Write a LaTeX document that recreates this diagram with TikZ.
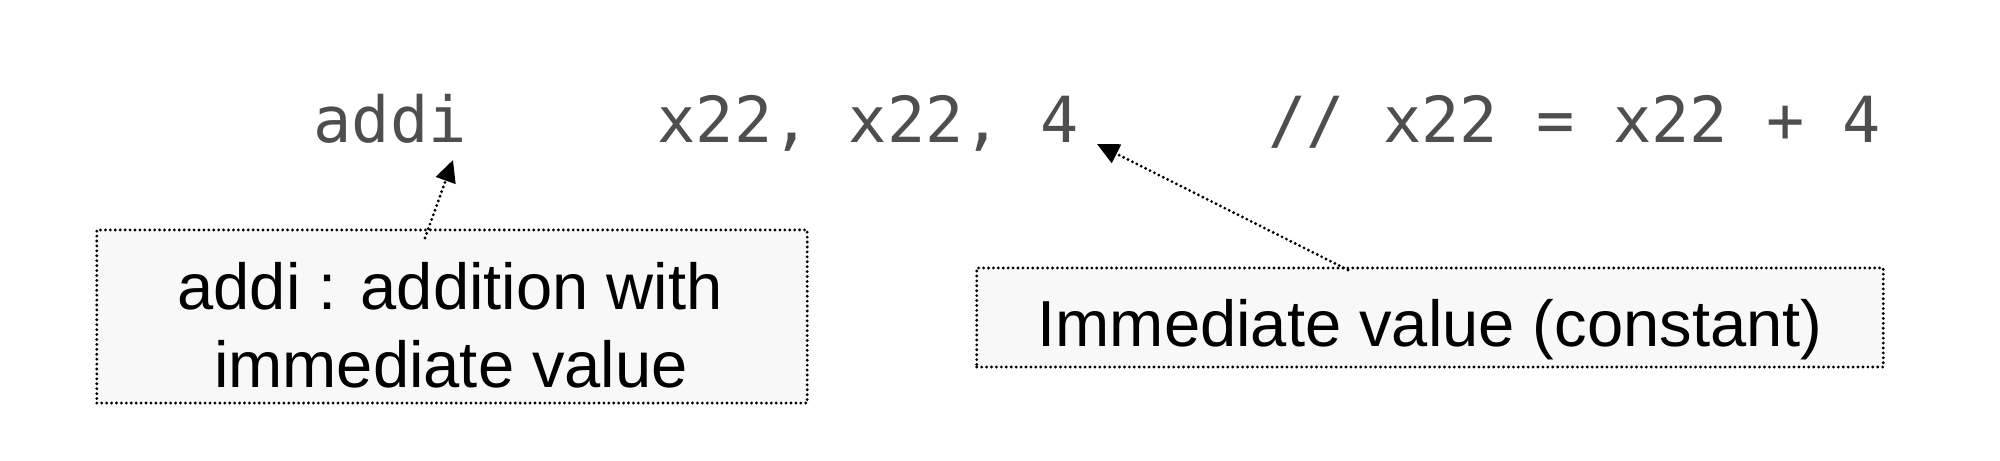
\documentclass[tikz,border=0pt]{standalone}
\usepackage{fontspec}
\setmainfont{Liberation Sans}
\setsansfont{Liberation Sans}
\setmonofont{DejaVu Sans Mono}
\usetikzlibrary{arrows.meta}
\definecolor{codegray}{RGB}{78,78,78}
\definecolor{boxfill}{RGB}{248,248,248}
\tikzset{
  codetext/.style={anchor=base west, inner sep=0pt, text=codegray,
    font=\ttfamily\fontsize{18.07pt}{20pt}\selectfont},
  dotbox/.style={draw=black, fill=boxfill, line width=0.9pt,
    dash pattern=on 0pt off 1.4pt, line cap=round, inner sep=0pt},
  boxtext/.style={anchor=base, inner sep=0pt, text=black,
    font=\sffamily\fontsize{18.5pt}{22pt}\selectfont},
  dotarrow/.style={draw=black, line width=0.9pt,
    dash pattern=on 0pt off 1.4pt, line cap=round,
    -{Triangle[length=6.2pt,width=5.8pt,line cap=butt,line join=miter]}},
}
\begin{document}
\begin{tikzpicture}[x=0.01cm, y=-0.01cm]
  \useasboundingbox (0,0) rectangle (2000,461);
  % code line
  \node[codetext] (op) at (313,143) {addi};
  \node[codetext] (args) at (657,143) {x22, x22, 4};
  \node[codetext] (cmt) at (1268,143) {// x22 = x22 + 4};
  % boxes
  \node[dotbox, minimum width=7.10cm, minimum height=1.73cm] (b1) at (452,316.5) {};
  \node[dotbox, minimum width=9.06cm, minimum height=0.99cm] (b2) at (1430,317.5) {};
  \node[boxtext] (t1a) at (450,310) {addi : addition with};
  \node[boxtext] (t1b) at (451,387) {immediate value};
  \node[boxtext] (t2) at (1430,347) {Immediate value (constant)};
  % arrow end points
  \coordinate (s1) at (425,238);
  \coordinate (e1) at (453,160);
  \coordinate (s2) at (1348,270);
  \coordinate (e2) at (1097,144);
  \draw[dotarrow] (s1) -- (e1);
  \draw[dotarrow] (s2) -- (e2);
\end{tikzpicture}
\end{document}
